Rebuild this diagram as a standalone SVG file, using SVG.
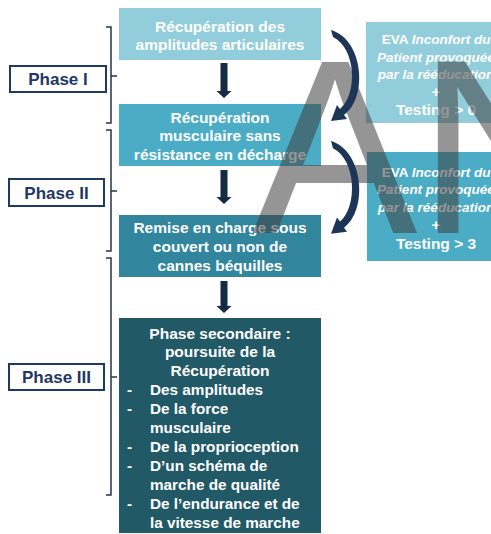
<svg xmlns="http://www.w3.org/2000/svg" width="491" height="534" viewBox="0 0 491 534">
<defs>
<style>
.bt{font-family:"Liberation Sans",Arial,sans-serif;font-weight:bold;fill:#fff;font-size:15.5px;text-anchor:middle}
.b4{font-family:"Liberation Sans",Arial,sans-serif;font-weight:bold;fill:#fff;font-size:15.3px}
.rt{font-family:"Liberation Sans",Arial,sans-serif;font-weight:bold;fill:#fff;font-size:13.5px;text-anchor:middle}
.rl{font-size:15.5px}
.it{font-style:italic}
.ph{fill:#fff;stroke:#1f3864;stroke-width:2}
.pt{font-family:"Liberation Sans",Arial,sans-serif;font-weight:bold;fill:#1f3864;font-size:17px;text-anchor:middle}
.br{fill:none;stroke:#26334f;stroke-width:1.5}
.dn{fill:#142a45}
.cv{fill:#1d3658}
.wm{font-family:"Liberation Sans",Arial,sans-serif;font-size:248px;fill:#404040;opacity:0.55}
</style>
<path id="curve" d="M331 30 C364 40 368 98 344 115 L347 119 L331 121 L337 105 L340 109 C358 94 356 48 333 37 Z"/>
</defs>

<g id="phase1">
<rect class="ph" x="10" y="66" width="96" height="26"/>
<text class="pt" x="58" y="85">Phase I</text>
<path class="br" d="M106 27 H111 V123 H106 M111 76 H117"/>
</g>
<g id="phase2">
<rect class="ph" x="9" y="179" width="95" height="27"/>
<text class="pt" x="56.5" y="198.5">Phase II</text>
<path class="br" d="M106 130 H111 V251 H106 M111 191 H117"/>
</g>
<g id="phase3">
<rect class="ph" x="9" y="364" width="95" height="26"/>
<text class="pt" x="56.5" y="383">Phase III</text>
<path class="br" d="M106 258 H111 V495 H106 M111 377 H117"/>
</g>

<g id="box1">
<rect x="119" y="8" width="202" height="52" fill="#92cddc"/>
<text class="bt" x="220" y="31.5">Récupération des</text>
<text class="bt" x="220" y="49.5">amplitudes articulaires</text>
</g>
<g id="box2">
<rect x="119" y="104" width="202" height="62" fill="#4bacc6"/>
<text class="bt" x="220" y="122.5">Récupération</text>
<text class="bt" x="220" y="141">musculaire sans</text>
<text class="bt" x="220" y="159.5">résistance en décharge</text>
</g>
<g id="box3">
<rect x="119" y="215" width="202" height="62" fill="#31859c"/>
<text class="bt" x="220" y="232.5">Remise en charge sous</text>
<text class="bt" x="220" y="251.5">couvert ou non de</text>
<text class="bt" x="220" y="270.5">cannes béquilles</text>
</g>
<g id="box4">
<rect x="119" y="318" width="202" height="215" fill="#215967"/>
<text class="bt" x="220" y="338.5">Phase secondaire :</text>
<text class="bt" x="220" y="357.4">poursuite de la</text>
<text class="bt" x="220" y="376.3">Récupération</text>
<text class="b4" x="127" y="395.2">-</text><text class="b4" x="150" y="395.2">Des amplitudes</text>
<text class="b4" x="127" y="414.1">-</text><text class="b4" x="150" y="414.1">De la force</text>
<text class="b4" x="150" y="433">musculaire</text>
<text class="b4" x="127" y="451.9">-</text><text class="b4" x="150" y="451.9">De la proprioception</text>
<text class="b4" x="127" y="470.8">-</text><text class="b4" x="150" y="470.8">D’un schéma de</text>
<text class="b4" x="150" y="489.7">marche de qualité</text>
<text class="b4" x="127" y="508.6">-</text><text class="b4" x="150" y="508.6">De l’endurance et de</text>
<text class="b4" x="150" y="527.5">la vitesse de marche</text>
</g>
<g id="eva1">
<rect x="366" y="22" width="130" height="101" fill="#92cddc"/>
<text class="rt" x="436" y="44">EVA <tspan class="it">Inconfort du</tspan></text>
<text class="rt it" x="436" y="62">Patient provoquée</text>
<text class="rt it" x="436" y="79">par la rééducation</text>
<text class="rt rl" x="436" y="97">+</text>
<text class="rt rl" x="436" y="115">Testing &gt; 0</text>
</g>
<g id="eva2">
<rect x="367" y="152" width="130" height="109" fill="#4bacc6"/>
<text class="rt" x="436" y="177">EVA <tspan class="it">Inconfort du</tspan></text>
<text class="rt it" x="436" y="194">Patient provoquée</text>
<text class="rt it" x="436" y="212">par la rééducation</text>
<text class="rt rl" x="436" y="230">+</text>
<text class="rt rl" x="436" y="249">Testing &gt; 3</text>
</g>

<text class="wm" x="252" y="233">AN</text>

<g id="connectors">
<polygon class="dn" points="220.5,63 227.5,63 227.5,91 231.5,91 224,98 216.5,91 220.5,91"/>
<polygon class="dn" points="220.5,170 227.5,170 227.5,197 231.5,197 224,204 216.5,197 220.5,197"/>
<polygon class="dn" points="220.5,281 227.5,281 227.5,306 231.5,306 224,313 216.5,306 220.5,306"/>
<use href="#curve" class="cv"/>
<use href="#curve" class="cv" transform="translate(0,111) scale(1,1.02) translate(0,-0.6)"/>
</g>
</svg>
